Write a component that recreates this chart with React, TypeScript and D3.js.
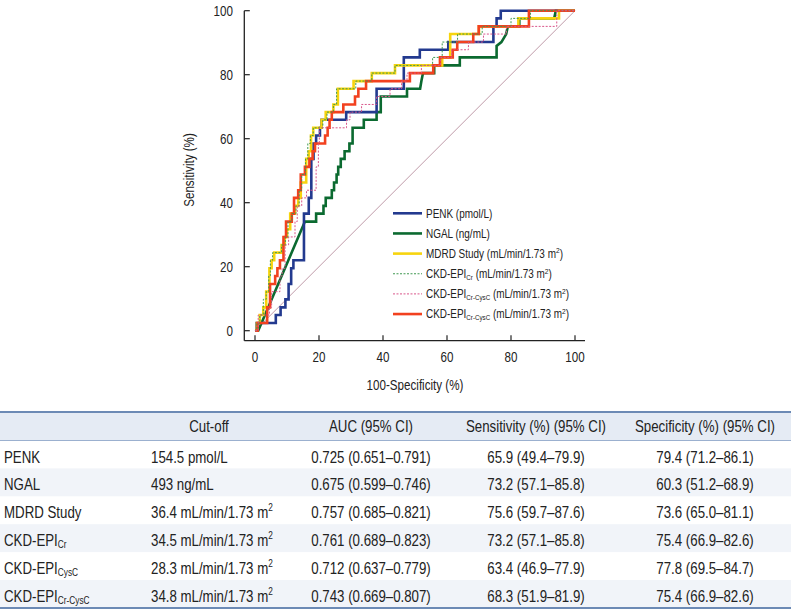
import React from "react";
import * as d3 from "d3";

// ---------- chart data (100-specificity %, sensitivity %) ----------
const xTicks = [0, 20, 40, 60, 80, 100];
const yTicks = [0, 20, 40, 60, 80, 100];

const penkPts: [number, number][] = [
  [0, 0], [0.5, 0], [0.5, 2.4], [6.5, 2.4], [6.5, 4.9], [8, 4.9], [8, 7.3], [9.5, 7.3], [9.5, 9.8],
  [10.5, 9.8], [10.5, 14.6], [11.3, 14.6], [11.3, 19.5], [12, 19.5], [12, 22], [15.3, 22], [15.3, 36.6],
  [16.8, 36.6], [16.8, 41.5], [17.6, 41.5], [17.6, 53.7], [18.3, 53.7], [18.3, 58.5], [19.1, 58.5],
  [19.1, 61], [20.3, 61], [20.3, 63.4], [20.8, 63.4], [20.8, 65.9], [28.5, 65.9], [28.5, 68.3],
  [38, 68.3], [38, 75.6], [46.5, 75.6], [46.5, 85.4], [51.5, 85.4], [51.5, 87.8], [60.4, 87.8],
  [60.4, 90.2], [74.5, 90.2], [74.5, 95.1], [75.5, 95.1], [75.5, 97.6], [76.8, 97.6], [76.8, 100], [100, 100],
];

const ngalPts: [number, number][] = [
  [0, 0], [1, 0], [15.6, 34.1], [19.1, 34.1], [19.1, 36.6], [21.4, 36.6], [21.4, 39], [22.1, 39],
  [22.1, 41.5], [24, 41.5], [24, 43.9], [24.7, 43.9], [24.7, 46.3], [25.5, 46.3], [25.5, 48.8], [26, 48.8],
  [26, 51.2], [26.8, 51.2], [26.8, 53.7], [28, 53.7], [28, 56.1], [29.5, 56.1], [29.5, 58.5], [30.5, 58.5],
  [30.5, 63.4], [34, 63.4], [34, 65.9], [38, 65.9], [38, 68.3], [39.3, 68.3], [39.3, 73.2], [47.5, 73.2],
  [47.5, 75.6], [51.6, 75.6], [52, 78], [52.5, 80.5], [56, 80.5], [56, 82.9], [64, 82.9], [64, 85.4],
  [75.5, 85.4], [75.5, 89], [77, 90.2], [78.5, 92.7], [79, 95.1], [82.6, 95.1], [82.6, 97.6], [93.5, 97.6],
  [94, 100], [100, 100],
];

const mdrdPts: [number, number][] = [
  [0, 0], [0.6, 0], [0.6, 2.4], [1.5, 2.4], [1.5, 4.9], [2.6, 4.9], [2.6, 7.3], [3.5, 7.3], [3.5, 12.2],
  [4.5, 12.2], [4.5, 19.5], [5.2, 19.5], [5.2, 22], [6, 22], [6, 24.4], [8.3, 24.4], [8.3, 26.8],
  [9.3, 26.8], [9.3, 29.3], [10, 29.3], [10, 31.7], [11, 31.7], [11, 36.6], [12.5, 36.6], [12.5, 39],
  [13.5, 39], [13.5, 41.5], [14.3, 41.5], [14.3, 46.3], [16, 46.3], [16, 53.7], [16.8, 53.7], [16.8, 56.1],
  [17.5, 56.1], [17.5, 61], [18.2, 61], [18.2, 63.4], [20.8, 63.4], [20.8, 65.9], [22.1, 65.9],
  [22.1, 68.3], [24.5, 68.3], [24.5, 70.7], [25.9, 70.7], [25.9, 75.6], [30.8, 75.6], [30.8, 78],
  [36.5, 78], [36.5, 80.5], [43.75, 80.5], [43.75, 82.9], [58.5, 82.9], [58.5, 85.4], [61, 85.4],
  [61, 92.7], [70, 92.7], [70, 95.1], [82.3, 95.1], [82.3, 97.6], [95, 97.6], [95, 100], [100, 100],
];

const ckdCrPts: [number, number][] = [
  [0, 0], [0.6, 0], [0.6, 2.4], [1.5, 2.4], [1.5, 4.9], [2.6, 4.9], [2.6, 9.8], [3.5, 9.8], [3.5, 12.2],
  [4.3, 12.2], [4.3, 17.1], [4.8, 17.1], [4.8, 22], [5.5, 22], [5.5, 24.4], [8.3, 24.4], [8.3, 26.8],
  [9.5, 26.8], [9.5, 29.3], [10.3, 29.3], [10.3, 34.1], [11.5, 34.1], [11.5, 36.6], [12.8, 36.6],
  [12.8, 39], [13.8, 39], [13.8, 43.9], [14.6, 43.9], [14.6, 48.8], [15.8, 48.8], [15.8, 53.7],
  [16.5, 53.7], [16.5, 58.5], [17.3, 58.5], [17.3, 61], [18.2, 61], [18.2, 63.4], [21.2, 63.4],
  [21.2, 65.9], [22.5, 65.9], [22.5, 68.3], [24.5, 68.3], [24.5, 70.7], [25.5, 70.7], [25.5, 75.6],
  [31.5, 75.6], [31.5, 78], [36.5, 78], [36.5, 80.5], [43.75, 80.5], [43.75, 82.9], [55.5, 82.9],
  [55.5, 85.4], [58.5, 85.4], [58.5, 90.2], [63.3, 90.2], [63.3, 92.7], [71, 92.7], [71, 95.1],
  [80, 95.1], [80, 97.6], [86.1, 97.6], [86.1, 100], [100, 100],
];

const ckdCysPts: [number, number][] = [
  [0, 0], [1, 0], [1, 4.9], [4.5, 4.9], [4.5, 7.3], [5.2, 7.3], [5.2, 12.2], [7.8, 12.2], [7.8, 17.1],
  [8.5, 17.1], [8.5, 19.5], [9.4, 19.5], [9.4, 26.8], [10.5, 26.8], [10.5, 29.3], [12.5, 29.3],
  [12.5, 34.1], [13.2, 34.1], [13.2, 39], [14.6, 39], [14.6, 41.5], [16.1, 41.5], [16.1, 43.9],
  [19.1, 43.9], [19.1, 51.2], [19.8, 51.2], [19.8, 58.5], [20.1, 58.5], [20.1, 63.4], [28.6, 63.4],
  [28.6, 65.9], [29.7, 65.9], [29.7, 68.3], [33.3, 68.3], [33.3, 70.7], [38, 70.7], [38, 73.2],
  [42.2, 73.2], [42.2, 75.6], [45.8, 75.6], [45.8, 78], [47.5, 78], [47.5, 80.5], [52, 80.5], [52, 82.9],
  [58, 82.9], [58, 85.4], [61.5, 85.4], [61.5, 87.8], [66.7, 87.8], [66.7, 90.2], [71.4, 90.2],
  [71.4, 92.7], [78.6, 92.7], [78.6, 95.1], [94.3, 95.1], [94.3, 100], [100, 100],
];

const ckdCrCysPts: [number, number][] = [
  [0, 0], [0.8, 0], [0.8, 2.4], [3.8, 2.4], [3.8, 7.3], [4.7, 7.3], [4.7, 14.6], [6.3, 14.6], [6.3, 17.1],
  [7, 17.1], [7, 19.5], [7.8, 19.5], [7.8, 22], [8.9, 22], [8.9, 29.3], [9.7, 29.3], [9.7, 34.1],
  [11.5, 34.1], [11.5, 36.6], [12.2, 36.6], [12.2, 41.5], [13.5, 41.5], [13.5, 43.9], [14.3, 43.9],
  [14.3, 48.8], [15.6, 48.8], [15.6, 51.2], [17, 51.2], [17, 53.7], [18, 53.7], [18, 56.1], [18.75, 56.1],
  [18.75, 58.5], [21.9, 58.5], [21.9, 61], [22.7, 61], [22.7, 63.4], [23.3, 63.4], [23.3, 65.9],
  [24, 65.9], [24, 68.3], [27.6, 68.3], [27.6, 70.7], [31.25, 70.7], [31.25, 73.2], [32.3, 73.2],
  [32.3, 75.6], [34.7, 75.6], [34.7, 78], [48.4, 78], [48.4, 80.5], [55.7, 80.5], [55.7, 82.9],
  [57.8, 82.9], [57.8, 85.4], [61.8, 85.4], [61.8, 87.8], [63.2, 87.8], [63.2, 90.2], [68.2, 90.2],
  [68.2, 92.7], [69.9, 92.7], [69.9, 95.1], [85.6, 95.1], [85.6, 100], [100, 100],
];

const diagonalPts: [number, number][] = [[0, 0], [100, 100]];

// legend texts: pre + subscript + mid + superscript + tail
const legendPre = ["PENK (pmol/L)", "NGAL (ng/mL)", "MDRD Study (mL/min/1.73 m", "CKD-EPI", "CKD-EPI", "CKD-EPI"];
const legendSub = ["", "", "", "Cr", "Cr-CysC", "Cr-CysC"];
const legendMid = ["", "", "", " (mL/min/1.73 m", " (mL/min/1.73 m", " (mL/min/1.73 m"];
const legendSup = ["", "", "2", "2", "2", "2"];
const legendTail = ["", "", ")", ")", ")", ")"];

// ---------- table data ----------
const tableHeaders = ["", "Cut-off", "AUC (95% CI)", "Sensitivity (%) (95% CI)", "Specificity (%) (95% CI)"];
const rowLabels = ["PENK", "NGAL", "MDRD Study", "CKD-EPI", "CKD-EPI", "CKD-EPI"];
const rowSubs = ["", "", "", "Cr", "CysC", "Cr-CysC"];
const cutoffs = ["154.5 pmol/L", "493 ng/mL", "36.4 mL/min/1.73 m", "34.5 mL/min/1.73 m", "28.3 mL/min/1.73 m", "34.8 mL/min/1.73 m"];
const cutoffSups = ["", "", "2", "2", "2", "2"];
const aucs = ["0.725 (0.651–0.791)", "0.675 (0.599–0.746)", "0.757 (0.685–0.821)", "0.761 (0.689–0.823)", "0.712 (0.637–0.779)", "0.743 (0.669–0.807)"];
const sensitivities = ["65.9 (49.4–79.9)", "73.2 (57.1–85.8)", "75.6 (59.7–87.6)", "73.2 (57.1–85.8)", "63.4 (46.9–77.9)", "68.3 (51.9–81.9)"];
const specificities = ["79.4 (71.2–86.1)", "60.3 (51.2–68.9)", "73.6 (65.0–81.1)", "75.4 (66.9–82.6)", "77.8 (69.5–84.7)", "75.4 (66.9–82.6)"];

// ---------- styles ----------
const FONT = "'Liberation Sans', Arial, sans-serif";
const SX = 0.83; // horizontal condensing to mimic a narrow face
const INK = "#222";

const series = [
  { pts: ngalPts, color: "#0b6a30", width: 2.6, dash: "" },
  { pts: penkPts, color: "#233a8f", width: 2.6, dash: "" },
  { pts: mdrdPts, color: "#f7d40e", width: 2.6, dash: "" },
  { pts: ckdCrCysPts, color: "#f2411f", width: 2.6, dash: "" },
  { pts: ckdCrPts, color: "#3f9950", width: 1, dash: "2,1.5" },
  { pts: ckdCysPts, color: "#d9568a", width: 1, dash: "2,1.5" },
];
const legendStyles = [
  { color: "#233a8f", width: 2.6, dash: "" },
  { color: "#0b6a30", width: 2.6, dash: "" },
  { color: "#f7d40e", width: 2.6, dash: "" },
  { color: "#3f9950", width: 1, dash: "2,1.5" },
  { color: "#d9568a", width: 1, dash: "2,1.5" },
  { color: "#f2411f", width: 2.6, dash: "" },
];

function NText(props: {
  x: number;
  y: number;
  size: number;
  anchor?: string;
  rotate?: number;
  dy?: string;
  children: React.ReactNode;
}) {
  const { x, y, size, anchor = "start", rotate = 0, dy, children } = props;
  return (
    <text
      transform={`translate(${x},${y})${rotate ? ` rotate(${rotate})` : ""} scale(${SX},1)`}
      textAnchor={anchor}
      fontSize={size}
      dy={dy}
      fill={INK}
    >
      {children}
    </text>
  );
}

export default function App() {
  const x = d3.scaleLinear().domain([0, 100]).range([255, 575]);
  const y = d3.scaleLinear().domain([0, 100]).range([330.7, 10.7]);
  const line = d3
    .line<[number, number]>()
    .x((d) => x(d[0]))
    .y((d) => y(d[1]));

  const axisLeftX = 244.3;
  const axisBottomY = 340.7;

  const colCenters = [0, 209, 371, 536, 705];
  const rowTop0 = 440.5;
  const rowH = 27.9;

  return (
    <svg
      width={791}
      height={610}
      style={{ position: "absolute", left: 0, top: 0, background: "#fff" }}
      fontFamily={FONT}
    >
      {/* diagonal */}
      <path d={line(diagonalPts) || ""} fill="none" stroke="#bf9aa8" strokeWidth={1} />
      {/* curves */}
      {series.map((s, i) => (
        <path
          key={i}
          d={line(s.pts) || ""}
          fill="none"
          stroke={s.color}
          strokeWidth={s.width}
          strokeDasharray={s.dash || undefined}
          strokeLinejoin="miter"
        />
      ))}

      {/* axes */}
      <line x1={axisLeftX} x2={axisLeftX} y1={y(100)} y2={axisBottomY} stroke={INK} strokeWidth={1.3} />
      <line x1={axisLeftX} x2={585} y1={axisBottomY} y2={axisBottomY} stroke={INK} strokeWidth={1.3} />
      {yTicks.map((t) => (
        <g key={"y" + t}>
          <line x1={axisLeftX} x2={axisLeftX + 5.5} y1={y(t)} y2={y(t)} stroke={INK} strokeWidth={1.2} />
          <NText x={233} y={y(t) + 5} size={14} anchor="end">
            {t}
          </NText>
        </g>
      ))}
      {xTicks.map((t) => (
        <g key={"x" + t}>
          <line x1={x(t)} x2={x(t)} y1={axisBottomY} y2={axisBottomY - 5.5} stroke={INK} strokeWidth={1.2} />
          <NText x={x(t)} y={361.5} size={14} anchor="middle">
            {t}
          </NText>
        </g>
      ))}
      <NText x={415} y={390} size={14} anchor="middle">
        100-Specificity (%)
      </NText>
      <NText x={194} y={170} size={14} anchor="middle" rotate={-90}>
        Sensitivity (%)
      </NText>

      {/* legend */}
      {legendPre.map((p, i) => {
        const ly = 213.3 + i * 20.15;
        const st = legendStyles[i];
        return (
          <g key={"lg" + i}>
            <line
              x1={393}
              x2={422}
              y1={ly}
              y2={ly}
              stroke={st.color}
              strokeWidth={st.width}
              strokeDasharray={st.dash || undefined}
            />
            <NText x={426} y={ly + 4.3} size={12}>
              {p}
              {legendSub[i] ? (
                <tspan fontSize={7.5} dy={2}>
                  {legendSub[i]}
                </tspan>
              ) : null}
              {legendMid[i] ? <tspan dy={legendSub[i] ? -2 : 0}>{legendMid[i]}</tspan> : null}
              {legendSup[i] ? (
                <tspan fontSize={8} dy={-4.5}>
                  {legendSup[i]}
                </tspan>
              ) : null}
              {legendTail[i] ? <tspan dy={4.5}>{legendTail[i]}</tspan> : null}
            </NText>
          </g>
        );
      })}

      {/* table */}
      <rect x={0} y={412} width={791} height={rowTop0 - 412} fill="#e5ebf4" />
      {rowLabels.map((_, i) =>
        i % 2 === 1 ? (
          <rect key={"bg" + i} x={0} y={rowTop0 + i * rowH} width={791} height={rowH} fill="#f1f4f9" />
        ) : null
      )}
      <line x1={0} x2={791} y1={412} y2={412} stroke="#6c8ab5" strokeWidth={2} />
      <line x1={0} x2={791} y1={rowTop0} y2={rowTop0} stroke="#9bb0cf" strokeWidth={1} />
      <line x1={0} x2={791} y1={rowTop0 + 6 * rowH} y2={rowTop0 + 6 * rowH} stroke="#6c8ab5" strokeWidth={2} />
      {tableHeaders.map((h, j) =>
        h ? (
          <NText key={"h" + j} x={colCenters[j]} y={432} size={16} anchor="middle">
            {h}
          </NText>
        ) : null
      )}
      {rowLabels.map((lab, i) => {
        const by = rowTop0 + i * rowH + 22;
        return (
          <g key={"r" + i}>
            <NText x={4} y={by} size={16}>
              {lab}
              {rowSubs[i] ? (
                <tspan fontSize={10} dy={2}>
                  {rowSubs[i]}
                </tspan>
              ) : null}
            </NText>
            <NText x={151} y={by} size={16}>
              {cutoffs[i]}
              {cutoffSups[i] ? (
                <tspan fontSize={10} dy={-7}>
                  {cutoffSups[i]}
                </tspan>
              ) : null}
            </NText>
            <NText x={colCenters[2]} y={by} size={16} anchor="middle">
              {aucs[i]}
            </NText>
            <NText x={colCenters[3]} y={by} size={16} anchor="middle">
              {sensitivities[i]}
            </NText>
            <NText x={colCenters[4]} y={by} size={16} anchor="middle">
              {specificities[i]}
            </NText>
          </g>
        );
      })}
    </svg>
  );
}
